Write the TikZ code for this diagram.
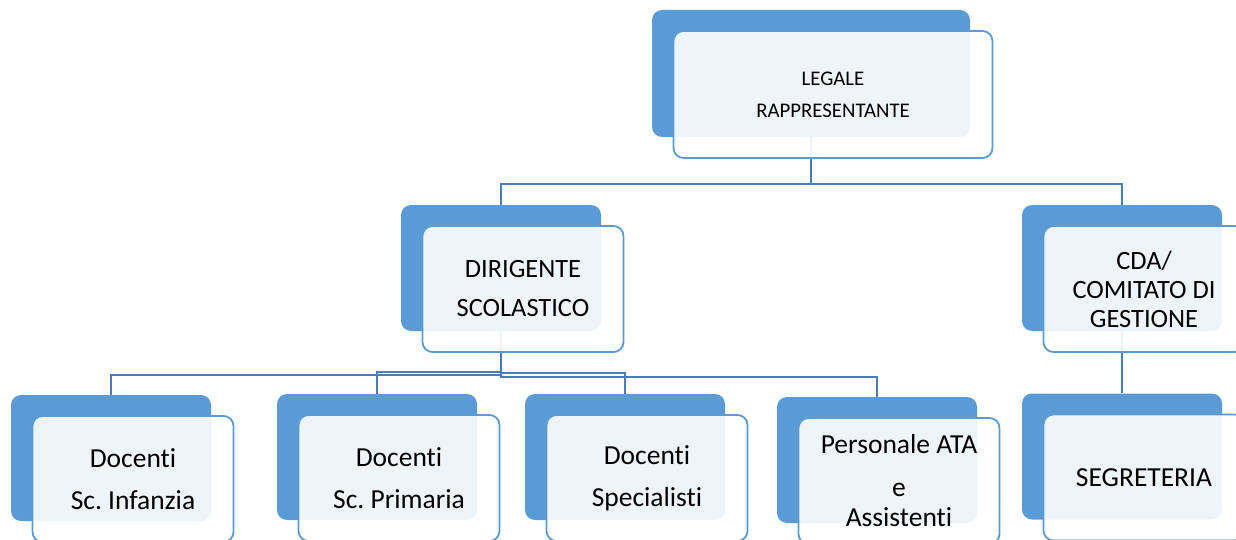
\documentclass[tikz,border=0pt]{standalone}
\usepackage{fontspec}
\setmainfont{Carlito}[Ligatures = {NoCommon, NoContextual}]
\frenchspacing

\definecolor{boxblue}{RGB}{91,155,213}
\definecolor{lineblue}{RGB}{74,126,187}

\begin{document}
\begin{tikzpicture}[%
        x = 1pt,
        y = -1pt,
        back/.style = {rectangle, rounded corners = 10pt, fill = boxblue,
            minimum width = 200pt, minimum height = 126pt, inner sep = 0pt},
        front/.style = {rectangle, rounded corners = 10pt, draw = boxblue,
            line width = 1.8pt, fill = white, fill opacity = 0.9,
            text opacity = 1, minimum width = 201pt, minimum height = 126pt,
            inner sep = 0pt, align = center,
            font = \fontsize{27.5}{42}\selectfont},
        link/.style = {draw = lineblue, line width = 2.5pt}
    ]

        \useasboundingbox (0, 0) rectangle (1236, 540);
        \clip (0, 0) rectangle (1236, 540);

        % Back panels of the chart.
        \node[back, minimum width = 318pt, minimum height = 127pt] (legale) at (811, 73.5) {};
        \node[back] (dirigente) at (501, 268) {};
        \node[back] (cda) at (1122, 268) {};
        \node[back] (infanzia) at (111, 458) {};
        \node[back] (primaria) at (377, 457) {};
        \node[back] (specialisti) at (625, 457) {};
        \node[back] (ata) at (877, 460) {};
        \node[back] (segreteria) at (1122, 456.5) {};

        % Connectors.
        \draw[link] (legale.south) -- ++(0, 47) -| (dirigente.north);
        \draw[link] (legale.south) -- ++(0, 47) -| (cda.north);
        \draw[link] (dirigente.south) -- ++(0, 44) -| (infanzia.north);
        \draw[link] (dirigente.south) -- ++(0, 41) -| (primaria.north);
        \draw[link] (dirigente.south) -- ++(0, 42) -| (specialisti.north);
        \draw[link] (dirigente.south) -- ++(0, 46) -| (ata.north);
        \draw[link] (cda.south) -- (segreteria.north);

        % Front panels with the texts.
        \node[front, minimum width = 319pt, minimum height = 127pt,
            font = \fontsize{20.8}{32}\selectfont] (legaleF)
            at ([xshift = 22pt, yshift = -21pt]legale.center)
            {LEGALE\\RAPPRESENTANTE};
        \node[front, font = \fontsize{26.4}{39}\selectfont] (dirigenteF)
            at ([xshift = 22pt, yshift = -21pt]dirigente.center)
            {DIRIGENTE\\SCOLASTICO};
        \node[front, font = \fontsize{26.4}{29}\selectfont] (cdaF)
            at ([xshift = 22pt, yshift = -21pt]cda.center)
            {CDA/\\COMITATO DI\\GESTIONE};
        \node[front] (infanziaF)
            at ([xshift = 22pt, yshift = -21pt]infanzia.center)
            {Docenti\\Sc. Infanzia};
        \node[front] (primariaF)
            at ([xshift = 22pt, yshift = -21pt]primaria.center)
            {Docenti\\Sc. Primaria};
        \node[front] (specialistiF)
            at ([xshift = 22pt, yshift = -21pt]specialisti.center)
            {Docenti\\Specialisti};
        \node[front, font = \fontsize{27.5}{30}\selectfont] (ataF)
            at ([xshift = 22pt, yshift = -21pt]ata.center)
            {Personale ATA\\[13pt]e\\Assistenti};
        \node[front] (segreteriaF)
            at ([xshift = 22pt, yshift = -21pt]segreteria.center)
            {SEGRETERIA};
    \end{tikzpicture}
\end{document}
